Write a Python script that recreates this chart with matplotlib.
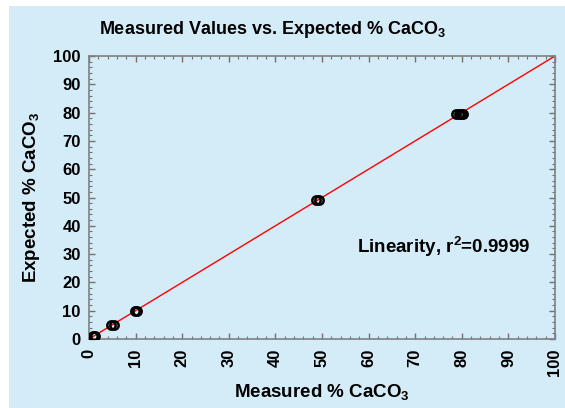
import numpy as np
import matplotlib
matplotlib.use('Agg')
import matplotlib.pyplot as plt
from matplotlib.patches import Rectangle

# measured vs expected % CaCO3
measured = [0.8, 1.3, 4.8, 5.3, 9.8, 10.2, 48.8, 49.3, 78.8, 79.3, 79.8, 80.2]
expected = [1.0, 1.0, 5.0, 5.0, 10.0, 10.0, 49.0, 49.0, 79.5, 79.5, 79.5, 79.5]
fit_x = [0, 100]
ticks = list(range(0, 101, 10))

bg = '#d4ecf8'


def main():
    plt.rcParams['font.family'] = ['Liberation Sans', 'DejaVu Sans']
    plt.rcParams['font.weight'] = 'bold'
    plt.rcParams['mathtext.fontset'] = 'custom'
    plt.rcParams['mathtext.rm'] = 'Liberation Sans:bold'
    plt.rcParams['mathtext.bf'] = 'Liberation Sans:bold'
    plt.rcParams['mathtext.default'] = 'rm'

    fig = plt.figure(figsize=(5.65, 4.08), dpi=100)
    fig.patch.set_facecolor('white')
    fig.patches.append(Rectangle((9 / 565, 0), 1, 1 - 6 / 408, transform=fig.transFigure,
                                 facecolor=bg, edgecolor='none', zorder=-10))
    ax = fig.add_axes([89 / 565, 1 - 339 / 408, 466 / 565, 283 / 408])
    ax.set_facecolor(bg)

    ax.plot(fit_x, fit_x, color='red', lw=1.0, zorder=2)
    ax.plot(measured, expected, 'o', ms=6, mfc='none', mec='black', mew=1.8, zorder=3)

    ax.set_xlim(0, 100)
    ax.set_ylim(0, 100)
    ax.set_xticks(ticks)
    ax.set_yticks(ticks)
    ax.set_xticks(np.arange(0, 101, 2), minor=True)
    ax.set_yticks(np.arange(0, 101, 2), minor=True)
    ax.tick_params(which='both', direction='in', top=True, right=True, color='#707070')
    ax.tick_params(which='major', length=4, width=1)
    ax.tick_params(which='minor', length=2, width=0.8)
    ax.tick_params(axis='x', labelrotation=90, pad=7, labelsize=12)
    ax.tick_params(axis='y', pad=6, labelsize=12)
    for s in ax.spines.values():
        s.set_color('#808080')
        s.set_linewidth(1.2)

    fig.text(272 / 565, 1 - 30 / 408, 'Measured Values vs. Expected % CaCO$_3$',
             fontsize=13, fontweight='bold', ha='center', va='center')
    ax.set_xlabel('Measured % CaCO$_3$', fontsize=13.5, fontweight='bold', labelpad=4)
    ax.set_ylabel('Expected % CaCO$_3$', fontsize=13.5, fontweight='bold', labelpad=8)
    ax.text(94.8, 32.5, 'Linearity, r$^2$=0.9999', fontsize=13.5, fontweight='bold',
            ha='right', va='center')

    fig.savefig('out.png', dpi=100, facecolor=fig.get_facecolor())


if __name__ == '__main__':
    main()
